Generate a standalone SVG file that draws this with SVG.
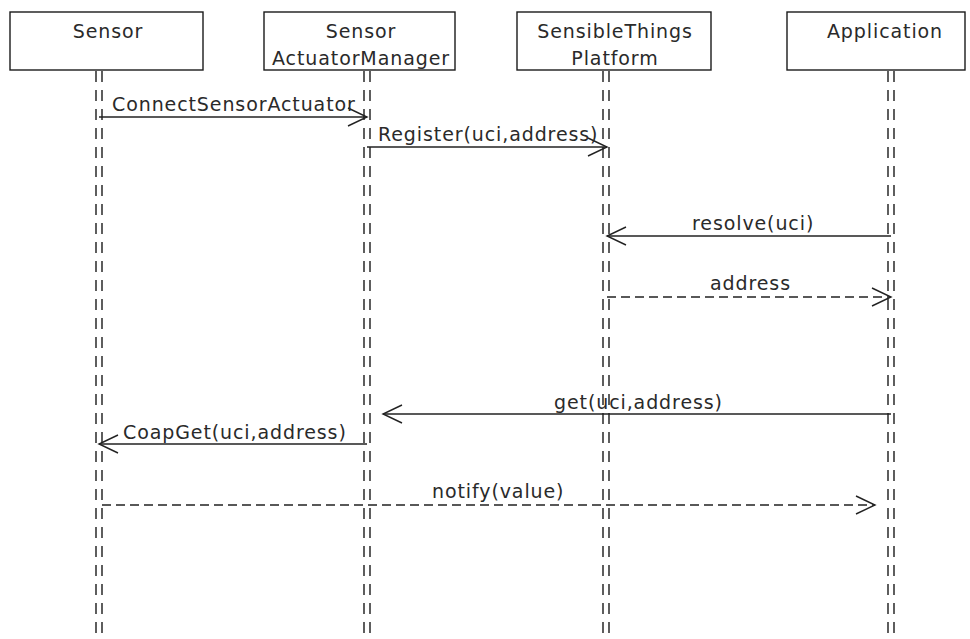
<svg xmlns="http://www.w3.org/2000/svg" width="970" height="639" viewBox="0 0 970 639">
  <style>
    .box { fill: #fff; stroke: #1a1a1a; stroke-width: 1.4; }
    .life { stroke: #1a1a1a; stroke-width: 1.4; stroke-dasharray: 11 8; fill: none; }
    .msg { stroke: #222; stroke-width: 1.4; fill: none; }
    .ret { stroke: #222; stroke-width: 1.4; fill: none; stroke-dasharray: 9 5; }
    .head { stroke: #222; stroke-width: 1.4; fill: none; }
    text { font-family: "DejaVu Sans", "Liberation Sans", sans-serif; font-size: 19px; fill: #2a2a2a; letter-spacing: 0.9px; }
    .c { text-anchor: middle; }
  </style>
  <rect width="970" height="639" fill="#fff"/>

  <!-- lifelines -->
  <g id="lifelines">
    <path class="life" d="M96 71V639M102 71V639"/>
    <path class="life" d="M364 71V639M370 71V639"/>
    <path class="life" d="M603 71V639M609 71V639"/>
    <path class="life" d="M888 71V639M894 71V639"/>
  </g>

  <g id="sensor">
    <rect class="box" x="10" y="12" width="193" height="58"/>
    <text class="c" x="108" y="38">Sensor</text>
  </g>
  <g id="sensor-actuator-manager">
    <rect class="box" x="264" y="12" width="191" height="58"/>
    <text class="c" x="361" y="38">Sensor</text>
    <text class="c" x="361" y="65">ActuatorManager</text>
  </g>
  <g id="sensiblethings-platform">
    <rect class="box" x="517" y="12" width="194" height="58"/>
    <text class="c" x="615" y="38">SensibleThings</text>
    <text class="c" x="615" y="65">Platform</text>
  </g>
  <g id="application">
    <rect class="box" x="787" y="12" width="178" height="58"/>
    <text class="c" x="885" y="38">Application</text>
  </g>

  <!-- messages -->
  <g id="connectors">
    <path class="msg" d="M99 117H367"/>
    <path class="head" d="M348 108L367 117L348 126"/>
    <text x="112" y="111">ConnectSensorActuator</text>

    <path class="msg" d="M367 147H607"/>
    <path class="head" d="M588 138L607 147L588 156"/>
    <text x="378" y="141">Register(uci,address)</text>

    <path class="msg" d="M891 236H607"/>
    <path class="head" d="M626 227L607 236L626 245"/>
    <text x="692" y="230">resolve(uci)</text>

    <path class="ret" d="M607 297H891"/>
    <path class="head" d="M872 288L891 297L872 306"/>
    <text x="710" y="290">address</text>

    <path class="msg" d="M891 414H383"/>
    <path class="head" d="M402 405L383 414L402 423"/>
    <text x="554" y="409">get(uci,address)</text>

    <path class="msg" d="M367 444H99"/>
    <path class="head" d="M118 435L99 444L118 453"/>
    <text x="123" y="439">CoapGet(uci,address)</text>

    <path class="ret" d="M102 505H875"/>
    <path class="head" d="M856 496L875 505L856 514"/>
    <text x="432" y="498">notify(value)</text>
  </g>
</svg>
